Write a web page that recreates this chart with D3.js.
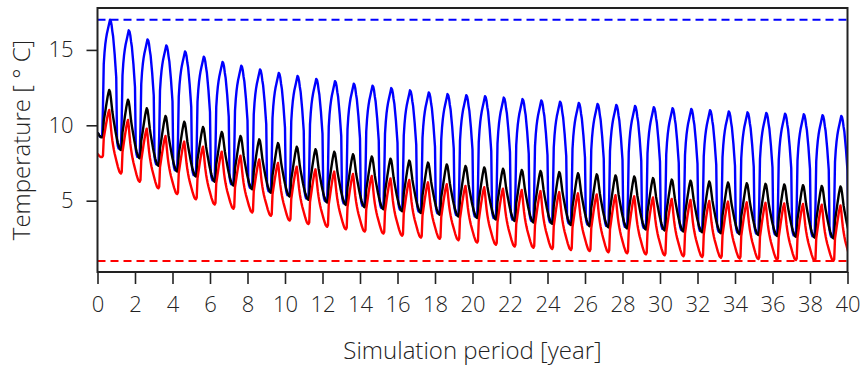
<!DOCTYPE html>
<html>
<head>
<meta charset="utf-8">
<script src="https://cdn.jsdelivr.net/npm/d3@7"></script>
<style>
  html, body { margin: 0; padding: 0; background: #fff; }
  svg text { font-family: "Open Sans", "Segoe UI", sans-serif; font-weight: 300; fill: #222; }
</style>
</head>
<body>
<svg id="chart" width="863" height="372"></svg>
<script>
// ---------------- data ----------------
const xTickValues = [0, 2, 4, 6, 8, 10, 12, 14, 16, 18, 20, 22, 24, 26, 28, 30, 32, 34, 36, 38, 40];
const yTickValues = [5, 10, 15];
const upperLimit = 17;   // blue dashed line
const lowerLimit = 1;    // red dashed line

// values during the first quarter of year 0 (before the first seasonal cycle)
const blueStart  = [9.5, 9.45, 9.32, 9.26, 9.25, 9.28];
const blackStart = [9.5, 9.45, 9.35, 9.28, 9.22, 9.2];
const redStart   = [8.1, 8.05, 7.98, 7.93, 7.9, 7.9];

// seasonal minima (at year + 0.25, one extra for the end) and maxima of each year
const blueTrough  = [9.3, 8.46, 7.91, 7.42, 7.03, 6.7, 6.36, 6.1, 5.86, 5.62, 5.37, 5.16, 4.98, 4.82, 4.67, 4.53, 4.4, 4.28, 4.16, 4.05,
                     3.95, 3.85, 3.75, 3.66, 3.57, 3.49, 3.41, 3.33, 3.26, 3.19, 3.13, 3.06, 3.0, 2.94, 2.88, 2.82, 2.76, 2.7, 2.65, 2.6, 2.55];
const bluePeak    = [17.0, 16.3, 15.7, 15.3, 14.9, 14.55, 14.2, 13.95, 13.7, 13.47, 13.27, 13.08, 12.93, 12.76, 12.63, 12.47, 12.32, 12.18, 12.07, 12.0,
                     11.93, 11.84, 11.74, 11.65, 11.57, 11.48, 11.42, 11.35, 11.28, 11.2, 11.13, 11.08, 11.0, 10.92, 10.86, 10.82, 10.77, 10.73, 10.67, 10.62];
const blackTrough = [9.2, 8.36, 7.81, 7.32, 6.93, 6.6, 6.26, 6.0, 5.76, 5.52, 5.27, 5.06, 4.88, 4.72, 4.57, 4.43, 4.3, 4.18, 4.06, 3.95,
                     3.85, 3.75, 3.65, 3.56, 3.47, 3.39, 3.31, 3.23, 3.16, 3.09, 3.03, 2.96, 2.9, 2.84, 2.78, 2.72, 2.66, 2.6, 2.55, 2.5, 2.45];
const blackPeak   = [12.35, 11.7, 11.13, 10.62, 10.24, 9.89, 9.56, 9.29, 9.07, 8.82, 8.58, 8.41, 8.25, 8.08, 7.93, 7.79, 7.66, 7.53, 7.41, 7.3,
                     7.21, 7.12, 7.04, 6.97, 6.9, 6.82, 6.75, 6.68, 6.61, 6.5, 6.4, 6.33, 6.27, 6.21, 6.16, 6.12, 6.08, 6.03, 5.98, 5.94];
const redTrough   = [7.9, 6.8, 6.26, 5.82, 5.44, 5.09, 4.75, 4.47, 4.22, 4.0, 3.68, 3.45, 3.27, 3.1, 2.95, 2.82, 2.68, 2.55, 2.47, 2.38,
                     2.22, 2.08, 1.96, 1.88, 1.8, 1.73, 1.66, 1.58, 1.51, 1.44, 1.38, 1.32, 1.27, 1.22, 1.17, 1.13, 1.09, 1.06, 1.03, 1.01, 1.0];
const redPeak     = [11.02, 10.35, 9.78, 9.29, 8.92, 8.58, 8.25, 7.99, 7.74, 7.5, 7.26, 7.08, 6.93, 6.77, 6.64, 6.48, 6.37, 6.22, 6.09, 5.98,
                     5.89, 5.8, 5.71, 5.64, 5.57, 5.49, 5.42, 5.36, 5.29, 5.21, 5.12, 5.05, 4.98, 4.94, 4.89, 4.86, 4.82, 4.78, 4.73, 4.69];

// shape of one seasonal cycle (24 half-month steps from one minimum to the next, 0 = minimum, 1 = maximum)
const blueProfile  = [0.0, 0.25, 0.62, 0.72, 0.79, 0.84, 0.88, 0.91, 0.94, 0.97, 1.0, 0.99, 0.96, 0.91, 0.87, 0.8, 0.73, 0.64, 0.55, 0.06, 0.02, 0.0, 0.0, 0.0];
const blackProfile = [0.0, 0.03, 0.35, 0.45, 0.55, 0.66, 0.76, 0.86, 0.94, 1.0, 0.97, 0.88, 0.76, 0.64, 0.55, 0.47, 0.39, 0.31, 0.24, 0.18, 0.12, 0.08, 0.04, 0.01];
const redProfile   = [0.0, 0.03, 0.4, 0.5, 0.6, 0.7, 0.79, 0.88, 0.95, 1.0, 0.9, 0.75, 0.62, 0.52, 0.44, 0.37, 0.31, 0.26, 0.21, 0.16, 0.11, 0.07, 0.03, 0.01];
const blueTop = 10, blackTop = 9, redTop = 9;   // index of the maximum within each profile

// ---------------- build series ----------------
function buildSeries(start, trough, peak, profile, top) {
  const pts = start.map((v, i) => ({ t: i / 24, v }));
  peak.forEach((pk, n) => {
    profile.forEach((f, k) => {
      const base = k <= top ? trough[n] : trough[n + 1];
      pts.push({ t: n + 0.25 + k / 24, v: base + f * (pk - base) });
    });
  });
  return pts;
}
const blueSeries  = buildSeries(blueStart, blueTrough, bluePeak, blueProfile, blueTop);
const blackSeries = buildSeries(blackStart, blackTrough, blackPeak, blackProfile, blackTop);
const redSeries   = buildSeries(redStart, redTrough, redPeak, redProfile, redTop);

// ---------------- chart ----------------
const svg = d3.select("#chart");
const L = 97.5, R = 847.5, T = 8, B = 272;
const x = d3.scaleLinear().domain([0, 40]).range([L, R]);
const y = d3.scaleLinear().domain([0.27, 17.78]).range([B, T]);

svg.append("defs").append("clipPath").attr("id", "clip")
  .append("rect").attr("x", L).attr("y", T).attr("width", R - L).attr("height", B - T);

const plot = svg.append("g").attr("clip-path", "url(#clip)");

const line = d3.line().x(d => x(d.t)).y(d => y(d.v));

// limit lines
plot.append("line").attr("x1", x(0)).attr("x2", x(40)).attr("y1", y(upperLimit)).attr("y2", y(upperLimit))
  .attr("stroke", "#0000ff").attr("stroke-width", 2).attr("stroke-dasharray", "8,5");
plot.append("line").attr("x1", x(0)).attr("x2", x(40)).attr("y1", y(lowerLimit)).attr("y2", y(lowerLimit))
  .attr("stroke", "#ff0000").attr("stroke-width", 2).attr("stroke-dasharray", "8,5");

[[blueSeries, "#0000ff"], [blackSeries, "#000000"], [redSeries, "#ff0000"]].forEach(([s, c]) => {
  plot.append("path").datum(s).attr("d", line)
    .attr("fill", "none").attr("stroke", c).attr("stroke-width", 2.4).attr("stroke-linejoin", "round");
});

// axes
const xAxis = svg.append("g").attr("transform", `translate(0,${B})`)
  .call(d3.axisBottom(x).tickValues(xTickValues).tickSize(12).tickPadding(12).tickFormat(d3.format("d")));
const yAxis = svg.append("g").attr("transform", `translate(${L},0)`)
  .call(d3.axisLeft(y).tickValues(yTickValues).tickSize(11).tickPadding(13).tickFormat(d3.format("d")));
[xAxis, yAxis].forEach(a => {
  a.select(".domain").remove();
  a.selectAll(".tick line").attr("stroke", "#222").attr("stroke-width", 1.6);
  a.selectAll(".tick text").attr("font-size", 22).attr("fill", "#222")
    .style("font-family", '"Open Sans", sans-serif').style("font-weight", 300);
});

// frame
svg.append("rect").attr("x", L).attr("y", T).attr("width", R - L).attr("height", B - T)
  .attr("fill", "none").attr("stroke", "#222").attr("stroke-width", 2);

// titles
svg.append("text").attr("x", (L + R) / 2).attr("y", 359).attr("text-anchor", "middle")
  .attr("font-size", 24).text("Simulation period [year]");
svg.append("text").attr("transform", `translate(30,${(T + B) / 2}) rotate(-90)`).attr("text-anchor", "middle")
  .attr("font-size", 24).text("Temperature [ ° C]");
</script>
</body>
</html>
